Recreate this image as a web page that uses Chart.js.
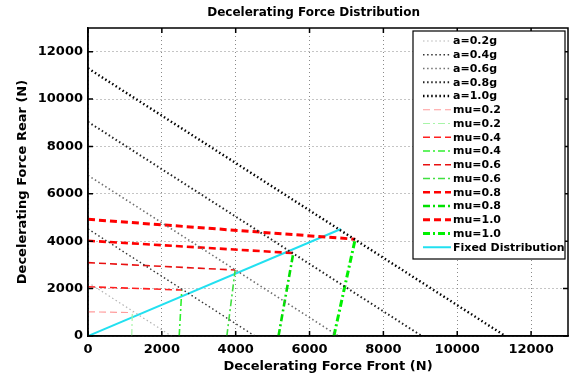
<!DOCTYPE html>
<html>
<head>
<meta charset="utf-8">
<script src="https://cdn.jsdelivr.net/npm/chart.js@4.4.1/dist/chart.umd.min.js"></script>
<style>
  html, body { margin: 0; padding: 0; background: #fff; }
  #wrap { width: 576px; height: 378px; position: relative; }
</style>
</head>
<body>
<div id="wrap"><canvas id="brakeChart" width="576" height="378"></canvas></div>
<script>
// constant deceleration lines: Ff + Fr = m*a*g (intercept on both axes)
const accelLabels = ['a=0.2g', 'a=0.4g', 'a=0.6g', 'a=0.8g', 'a=1.0g'];
const accelIntercepts = [2260, 4520, 6780, 9040, 11300];

// friction coefficient cases
const muLabels = ['mu=0.2', 'mu=0.4', 'mu=0.6', 'mu=0.8', 'mu=1.0'];
const rearLockStart = [1020, 2080, 3095, 4020, 4925];   // Fr at Ff = 0
const lockFront = [1200, 2540, 3985, 5560, 7236];       // Ff at intersection
const lockRear = [990, 1940, 2785, 3500, 4085];         // Fr at intersection
const frontLockStart = [1185, 2470, 3760, 5160, 6660];  // Ff at Fr = 0

// fixed brake force distribution
const fixedFront = [0, 6850];
const fixedRear = [0, 4517];

const xTicks = [0, 2000, 4000, 6000, 8000, 10000, 12000];
const yTicks = [0, 2000, 4000, 6000, 8000, 10000, 12000];
const chartTitle = 'Decelerating Force Distribution';

const accelColors = ['#b4b4b4', '#333333', '#707070', '#222222', '#000000'];
const accelWidths = [1.2, 1.4, 1.6, 2, 2.4];
const redColors = ['#ff9c9c', '#ff2020', '#e81010', '#ff0000', '#ff0000'];
const greenColors = ['#a8f5a8', '#30f030', '#40e040', '#00e000', '#00f000'];
const muWidths = [1.2, 1.6, 1.6, 2.6, 3];

const datasets = [];
accelLabels.forEach((label, i) => {
  datasets.push({
    label: label,
    data: [{x: 0, y: accelIntercepts[i]}, {x: accelIntercepts[i], y: 0}],
    borderColor: accelColors[i],
    borderWidth: accelWidths[i],
    borderDash: [1.5, 2.6]
  });
});
muLabels.forEach((label, i) => {
  datasets.push({
    label: label,
    data: [{x: 0, y: rearLockStart[i]}, {x: lockFront[i], y: lockRear[i]}],
    borderColor: redColors[i],
    borderWidth: muWidths[i],
    borderDash: [7, 4]
  });
  datasets.push({
    label: label,
    data: [{x: frontLockStart[i], y: 0}, {x: lockFront[i], y: lockRear[i]}],
    borderColor: greenColors[i],
    borderWidth: muWidths[i],
    borderDash: [7, 3, 2, 3]
  });
});
datasets.push({
  label: 'Fixed Distribution',
  data: fixedFront.map((x, i) => ({x: x, y: fixedRear[i]})),
  borderColor: '#22e0f0',
  borderWidth: 2
});

const tickFont = {family: 'DejaVu Sans', size: 13, weight: 'bold'};
const labelFont = {family: 'DejaVu Sans', size: 13, weight: 'bold'};

// box around axes, inward tick marks, title and MATLAB style legend
const matlabFrame = {
  id: 'matlabFrame',
  afterDraw(chart) {
    const ctx = chart.ctx;
    const area = chart.chartArea;
    const xs = chart.scales.x, ys = chart.scales.y;
    ctx.save();
    ctx.strokeStyle = '#000';
    ctx.lineWidth = 1.5;
    ctx.setLineDash([]);
    ctx.beginPath();
    xTicks.forEach(v => {
      const px = xs.getPixelForValue(v);
      ctx.moveTo(px, area.bottom); ctx.lineTo(px, area.bottom - 5);
      ctx.moveTo(px, area.top); ctx.lineTo(px, area.top + 5);
    });
    yTicks.forEach(v => {
      const py = ys.getPixelForValue(v);
      ctx.moveTo(area.left, py); ctx.lineTo(area.left + 5, py);
      ctx.moveTo(area.right, py); ctx.lineTo(area.right - 5, py);
    });
    ctx.stroke();
    ctx.strokeRect(area.left, area.top, area.right - area.left, area.bottom - area.top);

    // title (sits a little left of the axes centre, as in the original)
    ctx.fillStyle = '#000';
    ctx.font = 'bold 12px "DejaVu Sans"';
    ctx.textAlign = 'center';
    ctx.textBaseline = 'middle';
    ctx.fillText(chartTitle, area.left + (area.right - area.left) * 0.47, 13);

    // legend
    const rowH = 13.75;
    const boxW = 152, boxH = 16 * rowH + 8;
    const bx = area.right - 155, by = area.top + 3;
    ctx.fillStyle = '#fff';
    ctx.fillRect(bx, by, boxW, boxH);
    ctx.lineWidth = 1.2;
    ctx.strokeRect(bx, by, boxW, boxH);
    ctx.font = 'bold 11px "DejaVu Sans"';
    ctx.textAlign = 'left';
    chart.data.datasets.forEach((ds, i) => {
      const y = by + 10 + i * rowH;
      ctx.strokeStyle = ds.borderColor;
      ctx.lineWidth = ds.borderWidth;
      ctx.setLineDash(ds.borderDash || []);
      ctx.beginPath();
      ctx.moveTo(bx + 10, y); ctx.lineTo(bx + 38, y);
      ctx.stroke();
      ctx.fillStyle = '#000';
      ctx.fillText(ds.label, bx + 40, y + 0.5);
    });
    ctx.restore();
  }
};

new Chart(document.getElementById('brakeChart'), {
  type: 'scatter',
  data: { datasets: datasets },
  options: {
    responsive: false,
    animation: false,
    showLine: true,
    elements: { point: { radius: 0 }, line: { tension: 0, borderCapStyle: 'butt' } },
    layout: { padding: { left: 0, right: 8, top: 28, bottom: 2 } },
    plugins: {
      legend: { display: false },
      tooltip: { enabled: false },
      title: { display: false }
    },
    scales: {
      x: {
        type: 'linear',
        min: 0, max: 13000,
        afterFit: s => { s.height = 40; },
        afterBuildTicks: s => { s.ticks = xTicks.map(v => ({value: v})); },
        ticks: { padding: 6, color: '#000', font: tickFont, maxRotation: 0, autoSkip: false,
                 callback: v => String(v) },
        grid: { color: '#8a8a8a', lineWidth: 1, drawTicks: false },
        border: { display: true, color: '#000', width: 1.5, dash: [1, 3] },
        title: {
          display: true,
          text: 'Decelerating Force Front (N)',
          color: '#000',
          font: labelFont,
          padding: { top: 0, bottom: 2 }
        }
      },
      y: {
        type: 'linear',
        min: 0, max: 13000,
        afterFit: s => { s.width = 88; },
        afterBuildTicks: s => { s.ticks = yTicks.map(v => ({value: v})); },
        ticks: { padding: 5, color: '#000', font: tickFont, autoSkip: false,
                 callback: v => String(v) },
        grid: { color: '#8a8a8a', lineWidth: 1, drawTicks: false },
        border: { display: true, color: '#000', width: 1.5, dash: [1, 3] },
        title: {
          display: true,
          text: 'Decelerating Force Rear (N)',
          color: '#000',
          font: labelFont,
          padding: { top: 15, bottom: 0 }
        }
      }
    }
  },
  plugins: [matlabFrame]
});
</script>
</body>
</html>
